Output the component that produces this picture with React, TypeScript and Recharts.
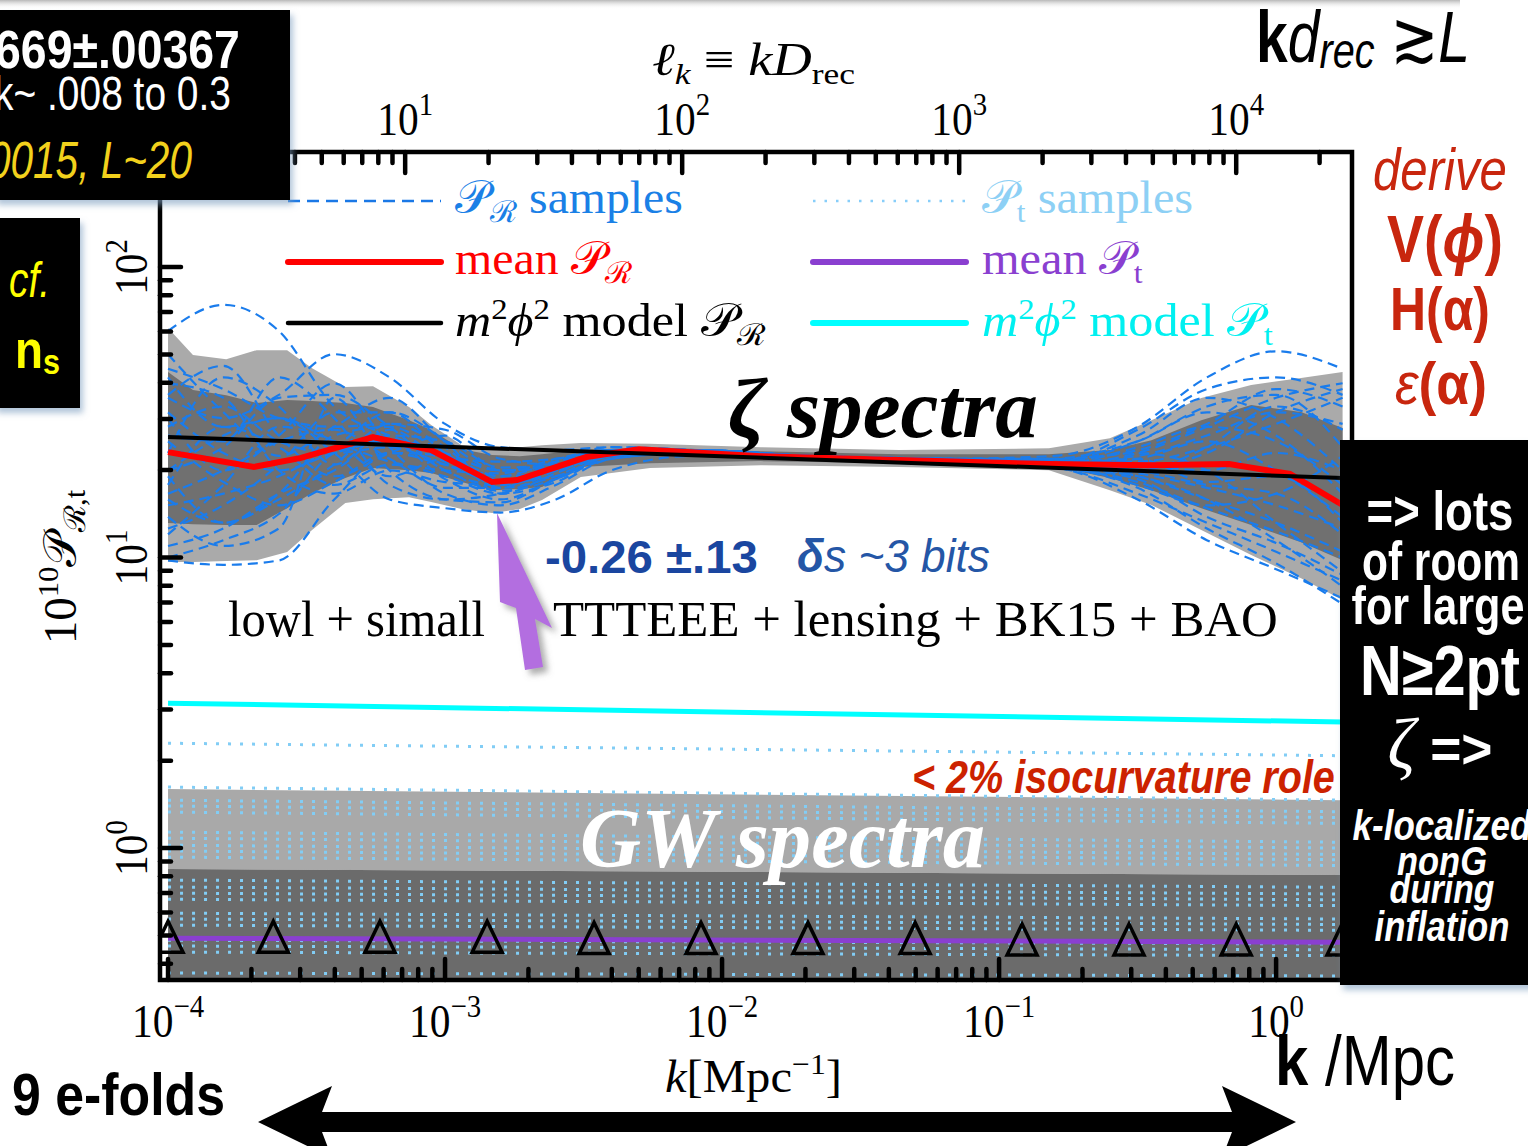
import React, { useLayoutEffect, useRef, useState } from "react";
import { Area, ComposedChart, Line, Scatter, XAxis, YAxis } from "recharts";

const SERIF = "'Liberation Serif', 'Times New Roman', 'DejaVu Serif', serif";
const SANS = "'Liberation Sans', Arial, 'DejaVu Sans', sans-serif";

// axes work in log10 units: x = log10 k [Mpc^-1], y = log10(10^10 P)
const X_DOMAIN = [-4.029, 0.274];
const Y_DOMAIN = [-0.454, 2.396];
const LOG_DREC = 4.144; // l_k = k D_rec

const K_MAJOR = [-4, -3, -2, -1, 0];
const L_MAJOR = [1, 2, 3, 4];
const P_MAJOR = [0, 1, 2];

// grey 1σ / 2σ bands of P_R
const BAND_K = [-4.0, -3.91, -3.79, -3.68, -3.57, -3.48, -3.36, -3.26, -3.13, -3.05, -2.94, -2.83, -2.73, -2.65, -2.51, -2.26, -1.86, -1.36, -0.82, -0.6, -0.45, -0.27, -0.09, 0.09, 0.24];
const LIGHT_HI = [1.79, 1.697, 1.683, 1.714, 1.714, 1.652, 1.587, 1.59, 1.518, 1.456, 1.387, 1.377, 1.38, 1.387, 1.394, 1.392, 1.38, 1.37, 1.376, 1.411, 1.473, 1.549, 1.594, 1.618, 1.639];
const LIGHT_LO = [0.985, 0.985, 0.988, 0.991, 1.019, 1.095, 1.188, 1.201, 1.208, 1.191, 1.167, 1.153, 1.167, 1.198, 1.277, 1.308, 1.318, 1.312, 1.301, 1.232, 1.181, 1.095, 1.009, 0.929, 0.854];
const DARK_HI = [1.639, 1.577, 1.559, 1.532, 1.542, 1.539, 1.532, 1.518, 1.473, 1.439, 1.373, 1.353, 1.349, 1.356, 1.37, 1.38, 1.366, 1.356, 1.356, 1.37, 1.404, 1.473, 1.525, 1.501, 1.446];
const DARK_LO = [1.119, 1.115, 1.112, 1.112, 1.17, 1.222, 1.274, 1.308, 1.301, 1.291, 1.26, 1.232, 1.236, 1.243, 1.312, 1.325, 1.332, 1.325, 1.318, 1.274, 1.232, 1.17, 1.112, 1.053, 0.991];

// mean P_R
const MEAN_K = [-4.0, -3.69, -3.52, -3.26, -3.05, -2.83, -2.74, -2.49, -2.3, -1.86, -1.36, -0.82, -0.45, -0.17, 0.05, 0.24];
const MEAN_V = [1.363, 1.312, 1.343, 1.415, 1.37, 1.26, 1.267, 1.346, 1.373, 1.349, 1.336, 1.322, 1.318, 1.322, 1.288, 1.181];

// P_R samples
const SAMPLE_K = [-4.0, -3.8, -3.6, -3.4, -3.2, -3.0, -2.8, -2.6, -2.4, -2.1, -1.7, -1.2, -0.8, -0.5, -0.25, 0.0, 0.24];
const SAMPLES = [
  [1.78, 1.87, 1.78, 1.52, 1.42, 1.36, 1.3, 1.33, 1.37, 1.37, 1.35, 1.34, 1.33, 1.35, 1.42, 1.5, 1.46],
  [1.55, 1.48, 1.56, 1.7, 1.62, 1.46, 1.38, 1.37, 1.38, 1.37, 1.35, 1.33, 1.32, 1.28, 1.2, 1.12, 1.02],
  [0.99, 0.975, 0.99, 1.2, 1.36, 1.35, 1.3, 1.31, 1.35, 1.36, 1.34, 1.33, 1.32, 1.36, 1.45, 1.55, 1.6],
  [1.3, 1.42, 1.48, 1.36, 1.2, 1.17, 1.155, 1.2, 1.3, 1.35, 1.34, 1.32, 1.31, 1.24, 1.1, 0.98, 0.84],
  [1.45, 1.52, 1.4, 1.36, 1.38, 1.32, 1.26, 1.3, 1.36, 1.37, 1.35, 1.34, 1.35, 1.45, 1.62, 1.71, 1.65],
  [1.2, 1.12, 1.22, 1.42, 1.45, 1.36, 1.28, 1.3, 1.35, 1.36, 1.34, 1.33, 1.31, 1.2, 1.06, 0.96, 0.86],
  [1.65, 1.58, 1.48, 1.45, 1.46, 1.38, 1.24, 1.28, 1.36, 1.37, 1.35, 1.33, 1.33, 1.4, 1.52, 1.56, 1.38],
  [1.1, 1.18, 1.32, 1.5, 1.5, 1.4, 1.22, 1.26, 1.35, 1.36, 1.34, 1.33, 1.31, 1.26, 1.17, 1.09, 1.0],
  [1.4, 1.26, 1.18, 1.26, 1.36, 1.32, 1.28, 1.33, 1.37, 1.36, 1.35, 1.34, 1.33, 1.33, 1.38, 1.46, 1.55],
  [1.3, 1.38, 1.55, 1.56, 1.45, 1.3, 1.25, 1.3, 1.37, 1.37, 1.35, 1.33, 1.32, 1.3, 1.25, 1.22, 1.08],
  [1.5, 1.36, 1.3, 1.36, 1.4, 1.27, 1.2, 1.27, 1.35, 1.36, 1.34, 1.33, 1.34, 1.4, 1.5, 1.42, 1.22],
  [1.22, 1.3, 1.4, 1.44, 1.34, 1.24, 1.24, 1.33, 1.38, 1.37, 1.35, 1.33, 1.31, 1.27, 1.14, 1.05, 0.94],
  [1.62, 1.45, 1.48, 1.4, 1.33, 1.3, 1.29, 1.34, 1.37, 1.36, 1.35, 1.34, 1.34, 1.37, 1.46, 1.58, 1.52],
  [1.04, 1.1, 1.22, 1.3, 1.42, 1.4, 1.31, 1.32, 1.36, 1.36, 1.34, 1.33, 1.32, 1.29, 1.24, 1.18, 1.1],
  [1.36, 1.62, 1.52, 1.32, 1.44, 1.33, 1.27, 1.31, 1.36, 1.37, 1.35, 1.34, 1.33, 1.32, 1.3, 1.36, 1.3],
  [1.14, 1.04, 1.1, 1.55, 1.3, 1.2, 1.19, 1.27, 1.34, 1.36, 1.34, 1.33, 1.32, 1.34, 1.4, 1.3, 1.14],
  [1.7, 1.5, 1.35, 1.45, 1.55, 1.4, 1.3, 1.32, 1.36, 1.37, 1.35, 1.34, 1.33, 1.42, 1.55, 1.48, 1.3],
  [1.25, 1.45, 1.38, 1.25, 1.32, 1.28, 1.22, 1.29, 1.36, 1.36, 1.34, 1.33, 1.32, 1.25, 1.18, 1.22, 1.35],
  [1.48, 1.3, 1.42, 1.6, 1.38, 1.22, 1.18, 1.25, 1.34, 1.36, 1.35, 1.33, 1.33, 1.36, 1.3, 1.12, 0.95],
  [1.08, 1.25, 1.45, 1.4, 1.28, 1.34, 1.33, 1.34, 1.37, 1.37, 1.35, 1.34, 1.33, 1.31, 1.36, 1.5, 1.58],
  [1.56, 1.66, 1.42, 1.28, 1.36, 1.42, 1.3, 1.31, 1.36, 1.36, 1.35, 1.33, 1.32, 1.38, 1.45, 1.4, 1.25],
  [1.18, 1.22, 1.28, 1.38, 1.5, 1.36, 1.26, 1.28, 1.35, 1.36, 1.34, 1.33, 1.31, 1.22, 1.12, 1.02, 0.92],
  [1.42, 1.4, 1.62, 1.48, 1.25, 1.2, 1.22, 1.3, 1.36, 1.37, 1.35, 1.34, 1.34, 1.3, 1.38, 1.52, 1.44],
  [1.28, 1.12, 1.2, 1.32, 1.46, 1.44, 1.34, 1.32, 1.36, 1.36, 1.34, 1.33, 1.32, 1.34, 1.26, 1.28, 1.12],
  [1.6, 1.55, 1.3, 1.22, 1.3, 1.26, 1.25, 1.31, 1.37, 1.37, 1.35, 1.33, 1.33, 1.44, 1.58, 1.62, 1.56],
  [1.0, 1.06, 1.15, 1.36, 1.4, 1.3, 1.23, 1.27, 1.35, 1.36, 1.34, 1.33, 1.31, 1.28, 1.2, 1.06, 0.9],
];

// straight power-law lines, given at both ends of the k range
const END_K = [-4.0, 0.24];
const MODEL_PR = [1.415, 1.274];
const MODEL_PT = [0.499, 0.434];
const MEAN_PT = [-0.31, -0.324];
const PT_LIGHT = [[-0.072, 0.203], [-0.093, 0.165]];
const PT_DARK = [[-0.5, -0.072], [-0.5, -0.093]];
const PT_SAMPLES = [
  [0.361, 0.318], [0.21, 0.165], [0.165, 0.125], [0.145, 0.105], [0.124, 0.085],
  [0.055, 0.02], [0.034, 0.0], [0.01, -0.022], [-0.01, -0.04], [-0.031, -0.06],
  [-0.11, -0.135], [-0.134, -0.158], [-0.155, -0.178], [-0.176, -0.198],
  [-0.224, -0.244], [-0.244, -0.263], [-0.265, -0.283],
  [-0.317, -0.33], [-0.337, -0.35], [-0.358, -0.37], [-0.43, -0.44],
];

// triangle markers on the mean P_t
const TRI_K = [-4.0, -3.62, -3.235, -2.848, -2.462, -2.076, -1.69, -1.303, -0.917, -0.531, -0.144, 0.238];
const TRI_V = [-0.31, -0.31, -0.31, -0.31, -0.315, -0.315, -0.315, -0.315, -0.32, -0.32, -0.32, -0.32];

const bandRows = BAND_K.map((lk, i) => ({ lk, light: [LIGHT_LO[i], LIGHT_HI[i]], dark: [DARK_LO[i], DARK_HI[i]] }));
const meanRows = MEAN_K.map((lk, i) => ({ lk, v: MEAN_V[i] }));
const sampleRows = SAMPLE_K.map((lk, i) => {
  const row: Record<string, number> = { lk };
  SAMPLES.forEach((s, j) => (row[`s${j}`] = s[i]));
  return row;
});
const ends = (vals: number[]) => END_K.map((lk, i) => ({ lk, v: vals[i] }));
const ptLightRows = END_K.map((lk, i) => ({ lk, band: PT_LIGHT[i] }));
const ptDarkRows = END_K.map((lk, i) => ({ lk, band: PT_DARK[i] }));
const triRows = TRI_K.map((lk, i) => ({ lk, v: TRI_V[i] }));

const minors = (from: number, to: number, lo: number, hi: number, shift = 0) => {
  const out: number[] = [];
  for (let e = from; e <= to; e++)
    for (let m = 1; m <= 9; m++) {
      const t = Math.log10(m) + e - shift;
      if (t >= lo && t <= hi) out.push(t);
    }
  return out;
};
const bottomTicks = minors(-5, 0, X_DOMAIN[0], X_DOMAIN[1]);
const topTicks = minors(0, 4, X_DOMAIN[0], X_DOMAIN[1], LOG_DREC);
const leftTicks = minors(-1, 2, Y_DOMAIN[0], Y_DOMAIN[1]);

const near = (v: number) => Math.abs(v - Math.round(v)) < 1e-6;
const expText = (n: number) => (n < 0 ? `\u2212${-n}` : `${n}`);
const TW = 4.5;

function BottomTick(p: any) {
  const { x, y, payload } = p;
  const v = payload.value as number;
  const major = near(v) && K_MAJOR.includes(Math.round(v));
  return (
    <g>
      <line x1={x} x2={x} y1={y} y2={y - (major ? 21 : 11)} stroke="#000" strokeWidth={TW} strokeLinecap="round" />
      {major && (
        <g transform={`translate(${x},${y + 57}) scale(0.9,1)`}>
          <text textAnchor="middle" fontFamily={SERIF} fontSize={46} fill="#000">
            10<tspan dy={-20} fontSize={32}>{expText(Math.round(v))}</tspan>
          </text>
        </g>
      )}
    </g>
  );
}

function TopTick(p: any) {
  const { x, y, payload } = p;
  const l = (payload.value as number) + LOG_DREC;
  const major = near(l) && L_MAJOR.includes(Math.round(l));
  return (
    <g>
      <line x1={x} x2={x} y1={y} y2={y + (major ? 21 : 11)} stroke="#000" strokeWidth={TW} strokeLinecap="round" />
      {major && (
        <g transform={`translate(${x},${y - 17}) scale(0.9,1)`}>
          <text textAnchor="middle" fontFamily={SERIF} fontSize={46} fill="#000">
            10<tspan dy={-20} fontSize={32}>{expText(Math.round(l))}</tspan>
          </text>
        </g>
      )}
    </g>
  );
}

function LeftTick(p: any) {
  const { x, y, payload } = p;
  const v = payload.value as number;
  const major = near(v) && P_MAJOR.includes(Math.round(v));
  return (
    <g>
      <line x1={x} x2={x + (major ? 21 : 11)} y1={y} y2={y} stroke="#000" strokeWidth={TW} strokeLinecap="round" />
      {major && (
        <g transform={`translate(${x - 13},${y}) rotate(-90) scale(0.9,1)`}>
          <text textAnchor="middle" fontFamily={SERIF} fontSize={46} fill="#000">
            10<tspan dy={-20} fontSize={32}>{expText(Math.round(v))}</tspan>
          </text>
        </g>
      )}
    </g>
  );
}

const Triangle = (p: any) => {
  const { cx, cy } = p;
  return <polygon points={`${cx},${cy - 17} ${cx - 15},${cy + 14} ${cx + 15},${cy + 14}`} fill="none" stroke="#000" strokeWidth={3.5} />;
};

// svg text squeezed horizontally to a target width
function Fit({ x, y, w, rot = 0, anchor = "start", size, family = SANS, weight = "normal", italic = false, fill = "#000", children }: any) {
  const ref = useRef<SVGTextElement>(null);
  const [s, setS] = useState(1);
  useLayoutEffect(() => {
    const el = ref.current;
    if (!el) return;
    const bw = el.getBBox().width;
    if (bw > 0) setS(w / bw);
  }, [w]);
  return (
    <g transform={`translate(${x},${y}) rotate(${rot}) scale(${s},1)`}>
      <text ref={ref} x={0} y={0} textAnchor={anchor} fontSize={size} fontFamily={family} fontWeight={weight} fontStyle={italic ? "italic" : "normal"} fill={fill}>
        {children}
      </text>
    </g>
  );
}

const P = "\u{1D4AB}";
const R = "\u211B";

function Overlay() {
  const legend = [
    { y: 201, x: 288, stroke: "#1a78e6", w: 2.5, dash: "12 7", tx: 455, ty: 213, tw: 227, color: "#1a80e6", label: (<><tspan>{P}</tspan><tspan dy={9} fontSize={30}>{R}</tspan><tspan dy={-9}> samples</tspan></>) },
    { y: 262, x: 288, stroke: "#ff0000", w: 6, dash: undefined, tx: 455, ty: 274, tw: 177, color: "#ff0000", label: (<><tspan>mean {P}</tspan><tspan dy={9} fontSize={30}>{R}</tspan></>) },
    { y: 323, x: 288, stroke: "#000", w: 4.5, dash: undefined, tx: 455, ty: 336, tw: 310, color: "#000", label: (<><tspan fontStyle="italic">m</tspan><tspan dy={-17} fontSize={30}>2</tspan><tspan dy={17} fontStyle="italic">ϕ</tspan><tspan dy={-17} fontSize={30}>2</tspan><tspan dy={17}> model {P}</tspan><tspan dy={9} fontSize={30}>{R}</tspan></>) },
    { y: 201, x: 813, stroke: "#87cefa", w: 2.5, dash: "2.5 9", tx: 982, ty: 213, tw: 211, color: "#8dd0f5", label: (<><tspan>{P}</tspan><tspan dy={9} fontSize={30}>t</tspan><tspan dy={-9}> samples</tspan></>) },
    { y: 262, x: 813, stroke: "#8a3fd0", w: 6, dash: undefined, tx: 982, ty: 274, tw: 161, color: "#8a3fd0", label: (<><tspan>mean {P}</tspan><tspan dy={9} fontSize={30}>t</tspan></>) },
    { y: 323, x: 813, stroke: "#00ffff", w: 6, dash: undefined, tx: 982, ty: 336, tw: 291, color: "#00f0f0", label: (<><tspan fontStyle="italic">m</tspan><tspan dy={-17} fontSize={30}>2</tspan><tspan dy={17} fontStyle="italic">ϕ</tspan><tspan dy={-17} fontSize={30}>2</tspan><tspan dy={17}> model {P}</tspan><tspan dy={9} fontSize={30}>t</tspan></>) },
  ];
  return (
    <svg width={1528} height={1146} style={{ position: "absolute", left: 0, top: 0, pointerEvents: "none" }}>
      <defs>
        <filter id="sh" x="-20%" y="-20%" width="140%" height="140%">
          <feDropShadow dx="3" dy="5" stdDeviation="3" floodColor="#7d9dc0" floodOpacity="0.6" />
        </filter>
        <filter id="ash" x="-30%" y="-30%" width="160%" height="160%">
          <feDropShadow dx="5" dy="5" stdDeviation="3" floodColor="#777" floodOpacity="0.6" />
        </filter>
        <linearGradient id="topfade" x1="0" y1="0" x2="0" y2="1">
          <stop offset="0" stopColor="#b8b8b8" />
          <stop offset="1" stopColor="#ffffff" stopOpacity="0" />
        </linearGradient>
      </defs>
      <rect x={0} y={0} width={1460} height={9} fill="url(#topfade)" />

      {/* frame */}
      <rect x={160} y={152} width={1192} height={828} fill="none" stroke="#000" strokeWidth={4.5} />

      {/* legend */}
      {legend.map((l, i) => (
        <g key={i}>
          <line x1={l.x} x2={l.x + 153} y1={l.y} y2={l.y} stroke={l.stroke} strokeWidth={l.w} strokeDasharray={l.dash} strokeLinecap={l.dash ? "butt" : "round"} />
          <Fit x={l.tx} y={l.ty} w={l.tw} size={46} family={SERIF} fill={l.color}>{l.label}</Fit>
        </g>
      ))}

      {/* in-plot annotations */}
      <Fit x={728} y={437} w={310} size={85} family={SERIF} weight="bold" italic>ζ spectra</Fit>
      <Fit x={580} y={867} w={405} size={84} family={SERIF} weight="bold" italic fill="#fff">GW spectra</Fit>
      <Fit x={545} y={573} w={213} size={47} weight="bold" fill="#1a46a0">-0.26 ±.13</Fit>
      <Fit x={797} y={572} w={193} size={46} italic fill="#2456a6"><tspan fontWeight="bold">δ</tspan>s ~3 bits</Fit>
      <Fit x={228} y={636} w={257} size={50} family={SERIF}>lowl + simall</Fit>
      <Fit x={553} y={636} w={725} size={50} family={SERIF}>TTTEEE + lensing + BK15 + BAO</Fit>
      <Fit x={912} y={793} w={423} size={46} weight="bold" italic fill="#cc2200">{"< 2% isocurvature role"}</Fit>

      <polygon points="497,513 552,628 535,619 543,667 525,670 516,608 500,602" fill="#b36ee0" filter="url(#ash)" />

      {/* axis titles */}
      <Fit x={652} y={75} w={203} size={46} family={SERIF}>
        <tspan fontStyle="italic">ℓ</tspan><tspan dy={9} fontSize={30} fontStyle="italic">k</tspan><tspan dy={-9}> ≡ </tspan><tspan fontStyle="italic">kD</tspan><tspan dy={9} fontSize={30}>rec</tspan>
      </Fit>
      <Fit x={665} y={1092} w={177} size={46} family={SERIF}>
        <tspan fontStyle="italic">k</tspan>[Mpc<tspan dy={-18} fontSize={30}>−1</tspan><tspan dy={18}>]</tspan>
      </Fit>
      <Fit x={76} y={567} w={155} rot={-90} anchor="middle" size={46} family={SERIF}>
        10<tspan dy={-18} fontSize={30}>10</tspan><tspan dy={18}>{P}</tspan><tspan dy={9} fontSize={30}>{R},t</tspan>
      </Fit>

      {/* black boxes */}
      <rect x={-6} y={10} width={296} height={190} fill="#000" filter="url(#sh)" />
      <rect x={-6} y={218} width={86} height={190} fill="#000" filter="url(#sh)" />
      <rect x={1340} y={440} width={200} height={545} fill="#000" filter="url(#sh)" />

      <Fit x={-5} y={68} w={245} size={53} weight="bold" fill="#fff">669±.00367</Fit>
      <Fit x={-6} y={110} w={237} size={49} fill="#fff">k~ .008 to 0.3</Fit>
      <Fit x={-12} y={178} w={204} size={52} italic fill="#f2d11c">0015, L~20</Fit>
      <Fit x={9} y={297} w={41} size={50} italic fill="#ffff00">cf.</Fit>
      <Fit x={15} y={368} w={45} size={54} weight="bold" fill="#ffff00">n<tspan dy={6} fontSize={36}>s</tspan></Fit>

      <Fit x={1440} y={530} w={147} anchor="middle" size={56} weight="bold" fill="#fff">{"=> lots"}</Fit>
      <Fit x={1441} y={580} w={158} anchor="middle" size={56} weight="bold" fill="#fff">of room</Fit>
      <Fit x={1438} y={624} w={173} anchor="middle" size={54} weight="bold" fill="#fff">for large</Fit>
      <Fit x={1440} y={695} w={160} anchor="middle" size={70} weight="bold" fill="#fff">N≥2pt</Fit>
      <Fit x={1440} y={768} w={105} anchor="middle" size={56} weight="bold" fill="#fff">
        <tspan fontFamily={SERIF} fontStyle="italic" fontWeight="normal" fontSize={72}>ζ</tspan> {"=>"}
      </Fit>
      <Fit x={1442} y={840} w={180} anchor="middle" size={42} weight="bold" italic fill="#fff">k-localized</Fit>
      <Fit x={1442} y={875} w={90} anchor="middle" size={40} weight="bold" italic fill="#fff">nonG</Fit>
      <Fit x={1442} y={903} w={105} anchor="middle" size={40} weight="bold" italic fill="#fff">during</Fit>
      <Fit x={1442} y={941} w={135} anchor="middle" size={42} weight="bold" italic fill="#fff">inflation</Fit>

      {/* right-hand notes */}
      <Fit x={1256} y={62} w={214} size={72}>
        <tspan fontWeight="bold">k</tspan><tspan fontStyle="italic">d</tspan><tspan fontStyle="italic" dy={6} fontSize={50}>rec</tspan><tspan dy={-6}> ≳</tspan><tspan fontStyle="italic">L</tspan>
      </Fit>
      <Fit x={1373} y={190} w={134} size={60} italic fill="#c8260e">derive</Fit>
      <Fit x={1387} y={262} w={116} size={66} weight="bold" fill="#c8260e">V(<tspan fontStyle="italic">ϕ</tspan>)</Fit>
      <Fit x={1390} y={330} w={100} size={62} weight="bold" fill="#c8260e">H(α)</Fit>
      <Fit x={1395} y={404} w={92} size={60} fill="#c8260e"><tspan fontStyle="italic">ε</tspan><tspan fontWeight="bold">(α)</tspan></Fit>

      {/* bottom */}
      <Fit x={12} y={1115} w={213} size={60} weight="bold">9 e-folds</Fit>
      <Fit x={1275} y={1085} w={180} size={70}><tspan fontWeight="bold">k</tspan> /Mpc</Fit>
      <polygon points="258,1122 332,1086 322,1112 1232,1112 1222,1086 1296,1122 1222,1158 1232,1132 322,1132 332,1158" fill="#000" />
    </svg>
  );
}

export default function App() {
  const common = { xAxisId: "b", yAxisId: "l", isAnimationActive: false } as const;
  return (
    <div style={{ position: "absolute", left: 0, top: 0, width: 1528, height: 1146, overflow: "hidden", background: "#fff" }}>
      <ComposedChart width={1528} height={1146} margin={{ top: 92, right: 176, bottom: 106, left: 100 }}>
        <XAxis xAxisId="b" dataKey="lk" type="number" orientation="bottom" domain={X_DOMAIN} allowDataOverflow ticks={bottomTicks} interval={0} tickSize={0} tickMargin={0} tickLine={false} axisLine={false} tick={(p: any) => <BottomTick {...p} />} height={60} />
        <XAxis xAxisId="t" dataKey="lk" type="number" orientation="top" domain={X_DOMAIN} allowDataOverflow ticks={topTicks} interval={0} tickSize={0} tickMargin={0} tickLine={false} axisLine={false} tick={(p: any) => <TopTick {...p} />} height={60} />
        <YAxis yAxisId="l" dataKey="v" type="number" domain={Y_DOMAIN} allowDataOverflow ticks={leftTicks} interval={0} tickSize={0} tickMargin={0} tickLine={false} axisLine={false} tick={(p: any) => <LeftTick {...p} />} width={60} />

        {/* tensor spectrum */}
        <Area {...common} data={ptLightRows} dataKey="band" type="linear" stroke="none" fill="#a9a9a9" fillOpacity={1} dot={false} activeDot={false} />
        <Area {...common} data={ptDarkRows} dataKey="band" type="linear" stroke="none" fill="#6b6b6b" fillOpacity={1} dot={false} activeDot={false} />
        {PT_SAMPLES.map((s, i) => (
          <Line key={`pt${i}`} {...common} data={ends(s)} dataKey="v" type="linear" stroke="#82cdf5" strokeWidth={3} strokeDasharray="3 9" dot={false} activeDot={false} />
        ))}
        <Line {...common} data={ends(MEAN_PT)} dataKey="v" type="linear" stroke="#8a3fd0" strokeWidth={5} dot={false} activeDot={false} />
        <Scatter {...common} data={triRows} dataKey="v" shape={Triangle} />

        {/* curvature spectrum */}
        <Area {...common} data={bandRows} dataKey="light" type="linear" stroke="none" fill="#aaaaaa" fillOpacity={1} dot={false} activeDot={false} />
        <Area {...common} data={bandRows} dataKey="dark" type="linear" stroke="none" fill="#707070" fillOpacity={1} dot={false} activeDot={false} />
        {SAMPLES.map((_, j) => (
          <Line key={`s${j}`} {...common} data={sampleRows} dataKey={`s${j}`} type="monotone" stroke="#1a7cec" strokeWidth={2.2} strokeDasharray="10 6" dot={false} activeDot={false} />
        ))}
        <Line {...common} data={ends(MODEL_PT)} dataKey="v" type="linear" stroke="#00ffff" strokeWidth={5} dot={false} activeDot={false} />
        <Line {...common} data={meanRows} dataKey="v" type="linear" stroke="#ff0000" strokeWidth={6} dot={false} activeDot={false} />
        <Line {...common} data={ends(MODEL_PR)} dataKey="v" type="linear" stroke="#000" strokeWidth={4} dot={false} activeDot={false} />
        <Line xAxisId="t" yAxisId="l" isAnimationActive={false} data={ends(MODEL_PR)} dataKey="v" stroke="none" dot={false} activeDot={false} />
      </ComposedChart>
      <Overlay />
    </div>
  );
}
